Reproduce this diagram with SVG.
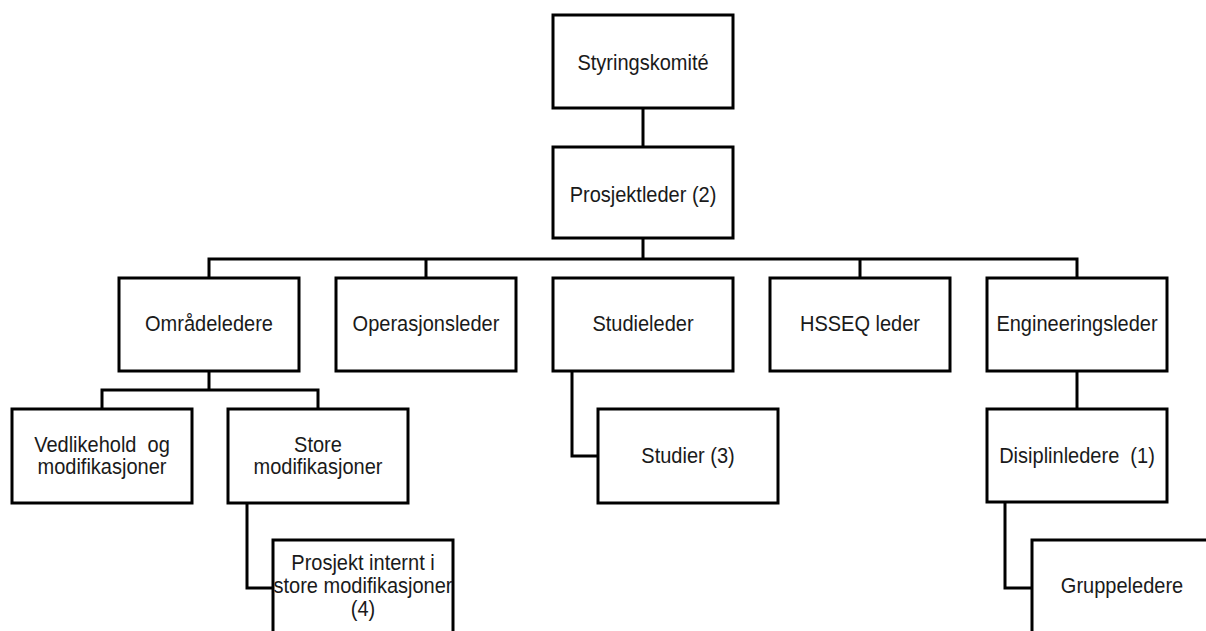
<svg xmlns="http://www.w3.org/2000/svg" width="1206" height="631" viewBox="0 0 1206 631">
  <style>
    .box { fill: #ffffff; stroke: #000000; stroke-width: 3; }
    .wire { fill: none; stroke: #000000; stroke-width: 3; stroke-linejoin: miter; }
    text { font-family: "Liberation Sans", Arial, sans-serif; font-size: 22px; fill: #1a1a1a; text-anchor: middle; white-space: pre; }
  </style>
  <rect width="1206" height="631" fill="#ffffff"/>

  <!-- reporting lines -->
  <g id="connectors">
    <path class="wire" d="M643 108 V147"/>
    <path class="wire" d="M643 238 V259 M209 278 V259 H1077 V278 M426 259 V278 M860 259 V278"/>
    <path class="wire" d="M209 371 V390 M102 409 V390 H318 V409"/>
    <path class="wire" d="M572 371 V456 H598"/>
    <path class="wire" d="M247 503 V588 H273"/>
    <path class="wire" d="M1077 371 V409"/>
    <path class="wire" d="M1005 502 V588 H1032"/>
  </g>

  <g id="styringskomite">
    <rect class="box" x="553" y="15" width="180" height="93"/>
    <text transform="translate(643 70) scale(0.91 1)">Styringskomité</text>
  </g>
  <g id="prosjektleder">
    <rect class="box" x="553" y="147" width="180" height="91"/>
    <text transform="translate(643 202) scale(0.91 1)">Prosjektleder (2)</text>
  </g>

  <g id="omradeledere">
    <rect class="box" x="119" y="278" width="180" height="93"/>
    <text transform="translate(209 331) scale(0.91 1)">Områdeledere</text>
  </g>
  <g id="operasjonsleder">
    <rect class="box" x="336" y="278" width="180" height="93"/>
    <text transform="translate(426 331) scale(0.91 1)">Operasjonsleder</text>
  </g>
  <g id="studieleder">
    <rect class="box" x="553" y="278" width="180" height="93"/>
    <text transform="translate(643 331) scale(0.91 1)">Studieleder</text>
  </g>
  <g id="hsseq-leder">
    <rect class="box" x="770" y="278" width="180" height="93"/>
    <text transform="translate(860 331) scale(0.91 1)">HSSEQ leder</text>
  </g>
  <g id="engineeringsleder">
    <rect class="box" x="987" y="278" width="180" height="93"/>
    <text transform="translate(1077 331) scale(0.91 1)">Engineeringsleder</text>
  </g>

  <g id="vedlikehold">
    <rect class="box" x="12" y="409" width="180" height="94"/>
    <text transform="translate(102 452) scale(0.91 1)">Vedlikehold  og</text>
    <text transform="translate(102 474) scale(0.91 1)">modifikasjoner</text>
  </g>
  <g id="store-modifikasjoner">
    <rect class="box" x="228" y="409" width="180" height="94"/>
    <text transform="translate(318 452) scale(0.91 1)">Store</text>
    <text transform="translate(318 474) scale(0.91 1)">modifikasjoner</text>
  </g>
  <g id="studier">
    <rect class="box" x="598" y="409" width="180" height="94"/>
    <text transform="translate(688 463) scale(0.91 1)">Studier (3)</text>
  </g>
  <g id="disiplinledere">
    <rect class="box" x="987" y="409" width="180" height="93"/>
    <text transform="translate(1077 463) scale(0.91 1)">Disiplinledere  (1)</text>
  </g>

  <g id="prosjekt-internt">
    <rect class="box" x="273" y="540" width="180" height="120"/>
    <text transform="translate(363 570) scale(0.91 1)">Prosjekt internt i</text>
    <text transform="translate(363 593) scale(0.91 1)">store modifikasjoner</text>
    <text transform="translate(363 616) scale(0.91 1)">(4)</text>
  </g>
  <g id="gruppeledere">
    <rect class="box" x="1032" y="540" width="180" height="120"/>
    <text transform="translate(1122 593) scale(0.91 1)">Gruppeledere</text>
  </g>
</svg>
